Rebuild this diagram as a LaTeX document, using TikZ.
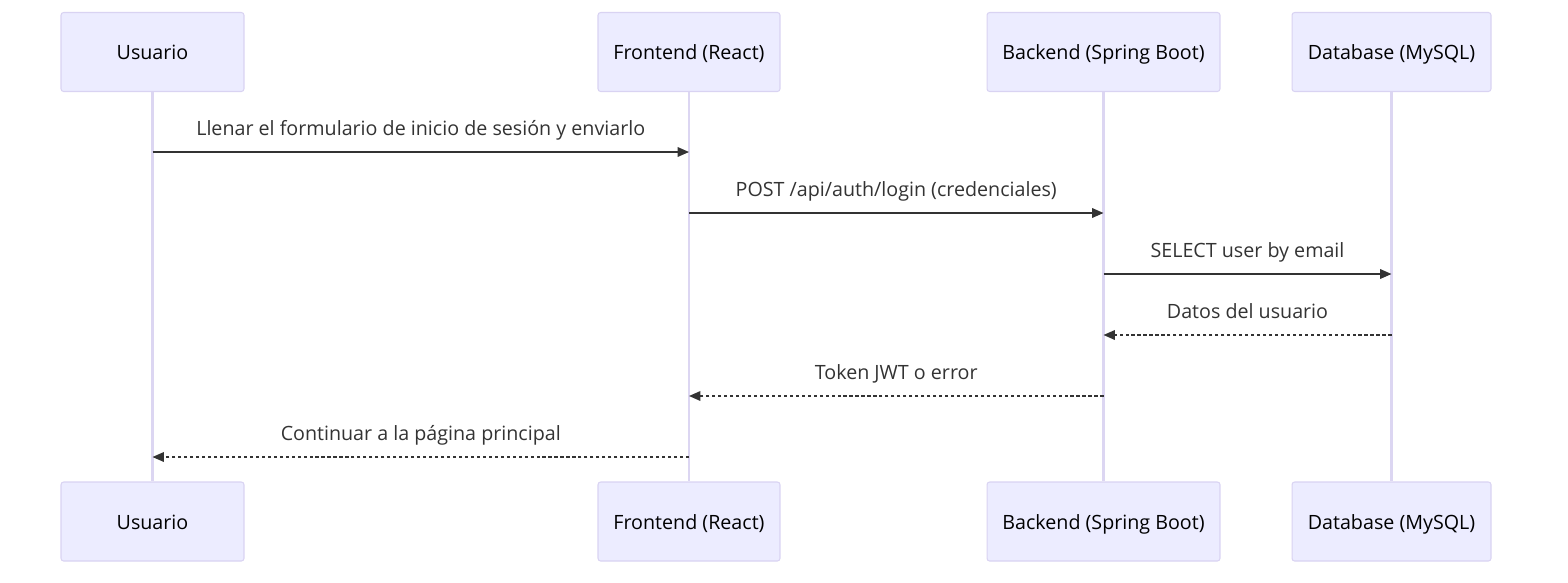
\documentclass[tikz,border=0pt]{standalone}
\usepackage{fontspec}
\setmainfont{Open Sans}
\usetikzlibrary{arrows.meta, calc}
\definecolor{boxfill}{HTML}{ECECFF}
\definecolor{boxline}{HTML}{D9D3F2}
\definecolor{lifeline}{HTML}{DCD6F2}
\definecolor{msgline}{HTML}{333333}
\begin{document}
\begin{tikzpicture}[x=0.02cm, y=-0.02cm,
    actor/.style = {draw=boxline, fill=boxfill, rounded corners=1.5pt, line width=0.6pt,
                    minimum height=1.58cm, font=\fontsize{11.2}{13}\selectfont, text=black,
                    text height=2ex, text depth=0.4ex},
    life/.style = {draw=lifeline, line width=1.2pt},
    msg/.style = {draw=msgline, line width=0.8pt, -{Triangle[length=6.5pt, width=5.5pt]}},
    reply/.style = {msg, dash pattern=on 1.8pt off 1.6pt},
    lbl/.style = {font=\fontsize{11.2}{13}\selectfont, text=msgline, anchor=base}]
    \useasboundingbox (0,0) rectangle (1568,582);
        % participants
        \node[actor, minimum width=3.66cm] (u1) at (152.5,52) {Usuario};
        \node[actor, minimum width=3.64cm] (f1) at (689,52) {Frontend (React)};
        \node[actor, minimum width=4.66cm] (b1) at (1103.5,52) {Backend (Spring Boot)};
        \node[actor, minimum width=3.98cm] (d1) at (1391.5,52) {Database (MySQL)};
        \node[actor, minimum width=3.66cm] (u2) at (152.5,521.5) {Usuario};
        \node[actor, minimum width=3.64cm] (f2) at (689,521.5) {Frontend (React)};
        \node[actor, minimum width=4.66cm] (b2) at (1103.5,521.5) {Backend (Spring Boot)};
        \node[actor, minimum width=3.98cm] (d2) at (1391.5,521.5) {Database (MySQL)};
        % lifelines
        \draw[life] (u1) -- (u2);
        \draw[life] (f1) -- (f2);
        \draw[life] (b1) -- (b2);
        \draw[life] (d1) -- (d2);
        % messages
        \coordinate (m1u) at (u1 |- 0,152);  \coordinate (m1f) at (f1 |- 0,152);
        \coordinate (m2f) at (f1 |- 0,213);  \coordinate (m2b) at (b1 |- 0,213);
        \coordinate (m3b) at (b1 |- 0,274);  \coordinate (m3d) at (d1 |- 0,274);
        \coordinate (m4d) at (d1 |- 0,335);  \coordinate (m4b) at (b1 |- 0,335);
        \coordinate (m5b) at (b1 |- 0,396);  \coordinate (m5f) at (f1 |- 0,396);
        \coordinate (m6f) at (f1 |- 0,457);  \coordinate (m6u) at (u1 |- 0,457);
        \draw[msg] (m1u) -- (m1f);
        \draw[msg] (m2f) -- (m2b);
        \draw[msg] (m3b) -- (m3d);
        \draw[reply] (m4d) -- (m4b);
        \draw[reply] (m5b) -- (m5f);
        \draw[reply] (m6f) -- (m6u);
        \node[lbl] (t1) at ($(m1u)!0.5!(m1f) + (0,-17)$) {Llenar el formulario de inicio de sesión y enviarlo};
        \node[lbl] (t2) at ($(m2f)!0.5!(m2b) + (0,-17)$) {POST /api/auth/login (credenciales)};
        \node[lbl] (t3) at ($(m3b)!0.5!(m3d) + (0,-17)$) {SELECT user by email};
        \node[lbl] (t4) at ($(m4d)!0.5!(m4b) + (0,-17)$) {Datos del usuario};
        \node[lbl] (t5) at ($(m5b)!0.5!(m5f) + (0,-17)$) {Token JWT o error};
        \node[lbl] (t6) at ($(m6f)!0.5!(m6u) + (0,-17)$) {Continuar a la página principal};
    \end{tikzpicture}
\end{document}
